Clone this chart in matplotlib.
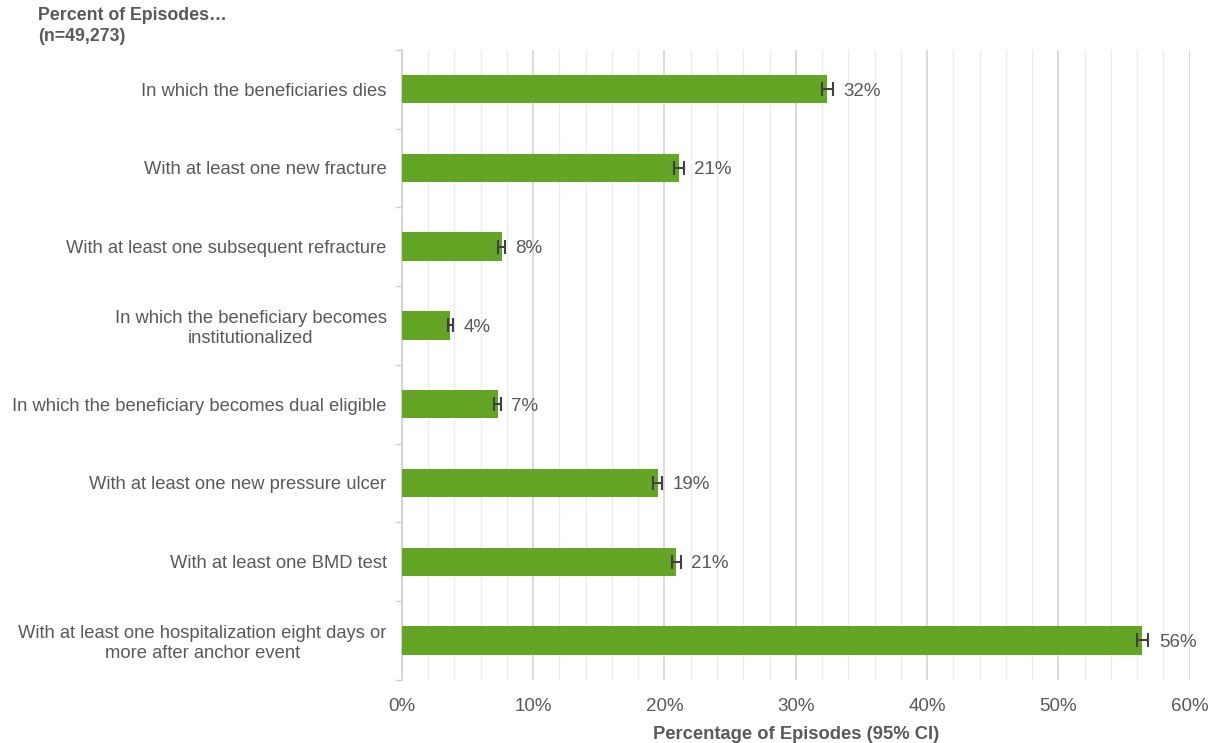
import matplotlib.pyplot as plt
import numpy as np
from matplotlib.ticker import MultipleLocator, FuncFormatter

plt.rcParams['font.family'] = ['Liberation Sans', 'DejaVu Sans']

categories = [
    "In which the beneficiaries dies",
    "With at least one new fracture",
    "With at least one subsequent refracture",
    "In which the beneficiary becomes\ninstitutionalized",
    "In which the beneficiary becomes dual eligible",
    "With at least one new pressure ulcer",
    "With at least one BMD test",
    "With at least one hospitalization eight days or\nmore after anchor event",
]
values = [32.4, 21.1, 7.6, 3.7, 7.3, 19.5, 20.9, 56.4]
ci = [0.4, 0.35, 0.25, 0.2, 0.25, 0.35, 0.35, 0.45]
labels = ["32%", "21%", "8%", "4%", "7%", "19%", "21%", "56%"]

green = "#65A526"
grey = "#595959"

fig = plt.figure(figsize=(12.14, 7.43), dpi=100)
ax = fig.add_axes([0.331, 0.085, 0.649, 0.848])

y = np.arange(len(categories))
ax.barh(y, values, height=0.36, color=green, zorder=3)
ax.errorbar(values, y, xerr=ci, fmt='none', ecolor="#404040", elinewidth=1.5,
            capsize=5, capthick=1.5, zorder=4)
for yi, v, c, lab in zip(y, values, ci, labels):
    ax.text(v + c + 0.8, yi, lab, va='center_baseline', ha='left', fontsize=13.5, color=grey)

ax.set_ylim(len(categories) - 0.5, -0.5)
ax.set_xlim(0, 60)
ax.set_yticks(y)
ax.set_yticklabels(categories, fontsize=13.2, color=grey, multialignment='center')
ax.set_yticks(np.arange(-0.5, len(categories), 1), minor=True)
ax.tick_params(axis='y', which='major', length=0, pad=11)
ax.tick_params(axis='y', which='minor', length=5, color="#d0d0d0", width=1)

ax.xaxis.set_major_locator(MultipleLocator(10))
ax.xaxis.set_minor_locator(MultipleLocator(2))
ax.xaxis.set_major_formatter(FuncFormatter(lambda v, p: f"{int(v)}%"))
ax.tick_params(axis='x', which='both', length=0, labelsize=13.5, labelcolor=grey, pad=13)
ax.grid(axis='x', which='major', color="#d4d4d4", linewidth=1.2, zorder=0)
ax.grid(axis='x', which='minor', color="#ececec", linewidth=1.0, zorder=0)

for s in ['top', 'right', 'bottom']:
    ax.spines[s].set_visible(False)
ax.spines['left'].set_color("#d0d0d0")
ax.spines['left'].set_linewidth(1.2)

ax.set_xlabel("Percentage of Episodes (95% CI)", fontsize=13.2, fontweight='bold',
              color=grey, labelpad=8)
fig.text(0.031, 0.99, "Percent of Episodes…\n(n=49,273)", fontsize=12.8,
         fontweight='bold', color=grey, va='top', ha='left', linespacing=1.3)

fig.savefig("out.png", dpi=100)
